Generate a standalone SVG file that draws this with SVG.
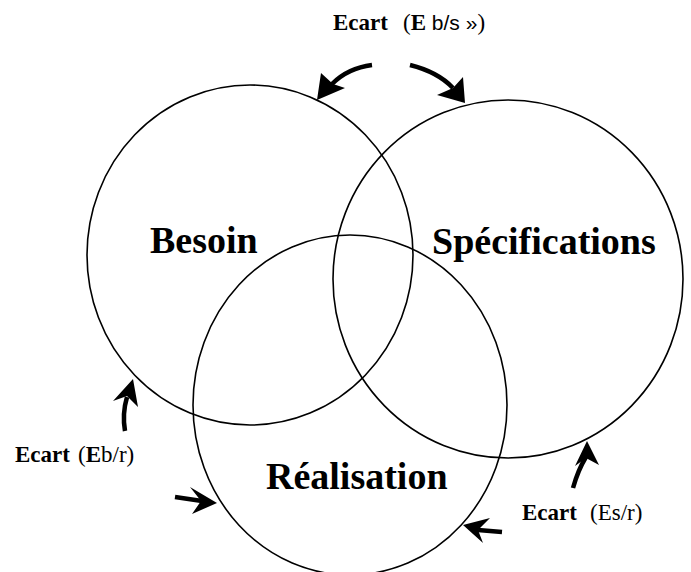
<svg xmlns="http://www.w3.org/2000/svg" width="691" height="572" viewBox="0 0 691 572">
<style>
.c{fill:none;stroke:#000;stroke-width:1.6}
.lbl{font-family:"Liberation Serif","Times New Roman",serif;font-weight:bold;font-size:38px;fill:#000}
.e{font-family:"Liberation Serif","Times New Roman",serif;font-size:23px;fill:#000}
.b{font-weight:bold}
.s{fill:none;stroke:#000;stroke-width:4.5;stroke-linecap:butt}
.h{fill:#000;stroke:none}
</style>
<rect width="691" height="572" fill="#fff"/>
<g id="besoin">
<ellipse class="c" cx="250" cy="255" rx="163" ry="170"/>
<text class="lbl" x="150" y="253">Besoin</text>
</g>
<g id="specifications">
<ellipse class="c" cx="508" cy="279" rx="175" ry="179"/>
<text class="lbl" x="432" y="254">Spécifications</text>
</g>
<g id="realisation">
<ellipse class="c" cx="350" cy="405" rx="157" ry="170"/>
<text class="lbl" x="266" y="489">Réalisation</text>
</g>
<g id="connectors">
<path class="s" d="M372,65 Q348,68 332,84"/>
<polygon class="h" points="317,100 321,73 333,84 345,88"/>
<path class="s" d="M410,65 Q438,72 453,88"/>
<polygon class="h" points="465,103 463,77 453,88 437,95"/>
<path class="s" d="M125,431 Q122,414 127,397"/>
<polygon class="h" points="133,379 113,401 127,396 138,407"/>
<path class="s" d="M175,497 L202,501"/>
<polygon class="h" points="217,503 190,487 201,501 192,514"/>
<path class="s" d="M502,532 L478,530"/>
<polygon class="h" points="463,525 490,518 478,530 483,543"/>
<path class="s" d="M573,488 Q578,470 586,457"/>
<polygon class="h" points="587,441 575,466 586,458 599,465"/>
</g>
<g id="labels">
<text class="e" y="30"><tspan class="b" x="333">Ecart</tspan><tspan x="403">(</tspan><tspan class="b">E</tspan><tspan font-family="Liberation Sans,Arial,sans-serif" font-size="21"> b/s »</tspan>)</text>
<text class="e" y="462"><tspan class="b" x="15">Ecart</tspan><tspan x="78">(</tspan><tspan class="b">E</tspan>b/r)</text>
<text class="e" y="520"><tspan class="b" x="522">Ecart</tspan><tspan x="590">(Es/r)</tspan></text>
</g>
</svg>
